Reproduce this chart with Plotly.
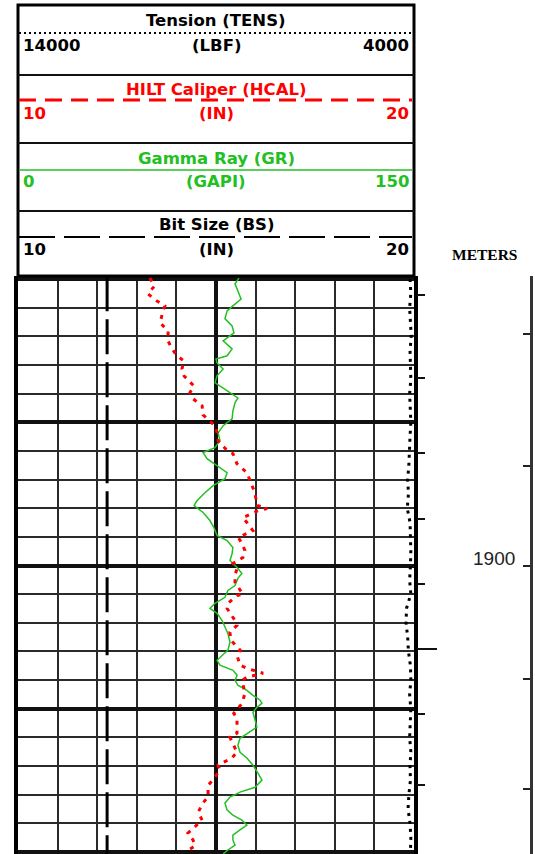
import plotly.graph_objects as go

# ---------------- data ----------------
hcal_depth = [1889.97, 1890.24, 1890.52, 1890.77, 1890.94, 1891.11, 1891.53, 1891.81, 1892.16, 1892.44,
              1892.68, 1892.86, 1893.14, 1893.38, 1893.73, 1893.97, 1894.18, 1894.43, 1894.74, 1895.12,
              1895.37, 1895.64, 1895.99, 1896.10, 1896.45, 1896.76, 1897.21, 1897.46, 1897.90, 1898.01,
              1898.10, 1898.33, 1898.50, 1898.78, 1899.02, 1899.23, 1899.48, 1899.72, 1899.93, 1900.10,
              1900.35, 1900.59, 1901.00, 1901.05, 1901.32, 1901.50, 1901.92, 1902.09, 1902.33, 1902.61,
              1902.96, 1903.14, 1903.48, 1903.59, 1903.76, 1903.90, 1904.01, 1904.46, 1904.81, 1905.16,
              1905.33, 1905.85, 1905.99, 1906.38, 1906.52, 1906.72, 1906.97, 1907.14, 1907.49, 1907.67,
              1908.08, 1908.29, 1908.61, 1908.89, 1909.06, 1909.34, 1909.58, 1909.79, 1910.00]
hcal_in = [13.33, 13.45, 13.28, 13.51, 13.71, 13.66, 13.59, 13.79, 13.79, 13.89,
           14.02, 14.19, 14.14, 14.19, 14.44, 14.34, 14.42, 14.65, 14.67, 14.97,
           15.03, 15.05, 15.28, 15.43, 15.53, 15.78, 15.91, 15.98, 16.04, 16.29,
           16.04, 15.68, 15.78, 15.93, 15.56, 15.66, 15.73, 15.68, 15.43, 15.53,
           15.48, 15.48, 15.68, 15.53, 15.30, 15.28, 15.48, 15.53, 15.35, 15.38,
           15.61, 15.53, 15.61, 15.78, 16.19, 15.78, 15.66, 15.73, 15.66, 15.45,
           15.53, 15.53, 15.35, 15.48, 15.53, 15.40, 15.05, 15.10, 14.92, 14.80,
           14.80, 14.67, 14.55, 14.65, 14.52, 14.29, 14.42, 14.47, 14.22]

gr_depth = [1889.97, 1890.17, 1890.42, 1890.70, 1890.94, 1891.11, 1891.39, 1891.64, 1891.88, 1892.16,
            1892.44, 1892.68, 1892.79, 1892.93, 1893.14, 1893.38, 1893.62, 1893.90, 1894.15, 1894.32,
            1894.60, 1894.88, 1895.12, 1895.37, 1895.64, 1895.89, 1896.06, 1896.27, 1896.52, 1896.76,
            1896.97, 1897.21, 1897.46, 1897.74, 1897.91, 1898.15, 1898.43, 1898.68, 1898.95, 1899.13,
            1899.37, 1899.58, 1899.83, 1900.07, 1900.28, 1900.45, 1900.70, 1900.87, 1901.11, 1901.32,
            1901.50, 1901.67, 1901.92, 1902.16, 1902.37, 1902.68, 1902.96, 1903.14, 1903.31, 1903.48,
            1903.66, 1903.83, 1904.01, 1904.18, 1904.36, 1904.53, 1904.70, 1904.81, 1904.95, 1905.12,
            1905.40, 1905.64, 1905.85, 1906.03, 1906.27, 1906.52, 1906.72, 1906.97, 1907.25, 1907.49,
            1907.74, 1907.91, 1908.08, 1908.29, 1908.54, 1908.71, 1908.89, 1909.06, 1909.23, 1909.41,
            1909.58, 1909.76, 1909.93, 1910.07]
gr_gapi = [83.7, 82.2, 83.3, 84.5, 81.4, 79.2, 78.4, 81.1, 81.8, 77.7,
           81.1, 79.2, 75.0, 75.4, 77.7, 75.4, 74.6, 79.2, 83.3, 82.2,
           81.4, 81.1, 77.7, 75.8, 76.5, 74.6, 70.1, 71.6, 75.4, 79.2,
           78.4, 73.9, 70.8, 67.8, 66.7, 70.1, 72.7, 74.2, 75.4, 79.2,
           81.4, 81.1, 80.3, 83.0, 84.8, 83.3, 82.2, 79.5, 78.4, 74.6,
           72.7, 75.4, 77.3, 78.4, 79.5, 80.3, 79.5, 77.3, 75.4, 76.5,
           81.4, 83.0, 82.2, 83.3, 86.7, 89.0, 91.7, 92.4, 90.5, 89.0,
           89.8, 90.5, 87.1, 84.1, 83.3, 84.1, 86.7, 89.0, 90.9, 92.4,
           89.8, 84.1, 80.3, 78.4, 79.2, 81.4, 84.8, 86.7, 84.1, 81.4,
           81.4, 82.2, 79.5, 77.7]

tens_depth = [1890.0, 1890.5, 1891.0, 1891.5, 1892.0, 1892.5, 1893.0, 1893.5, 1894.0, 1894.5,
              1895.0, 1895.5, 1896.0, 1896.5, 1897.0, 1897.5, 1898.0, 1898.5, 1899.0, 1899.5,
              1900.0, 1900.5, 1901.0, 1901.5, 1902.0, 1902.5, 1903.0, 1903.5, 1904.0, 1904.5,
              1905.0, 1905.5, 1906.0, 1906.5, 1907.0, 1907.5, 1908.0, 1908.5, 1909.0, 1909.5, 1910.0]
tens_lbf = [4100, 4080, 4110, 4090, 4070, 4100, 4090, 4080, 4110, 4090,
            4080, 4100, 4110, 4130, 4160, 4140, 4170, 4100, 4090, 4080,
            4090, 4110, 4080, 4190, 4200, 4160, 4140, 4090, 4080, 4110,
            4080, 4090, 4110, 4080, 4100, 4090, 4130, 4150, 4100, 4080, 4090]

bs_depth = [1889.9, 1910.1]
bs_in = [12.25, 12.25]

time_mark_depth = [1890.56, 1893.45, 1896.06, 1898.36, 1900.63, 1905.19, 1907.67]
time_mark_long_depth = [1902.93]
depth_tick_vals = [1891.92, 1896.52, 1900.0, 1903.97, 1907.80]
depth_label_val = 1900

curve_names = ["Tension (TENS)", "HILT Caliper (HCAL)", "Gamma Ray (GR)", "Bit Size (BS)"]
curve_units = ["(LBF)", "(IN)", "(GAPI)", "(IN)"]
curve_left = ["14000", "10", "0", "10"]
curve_right = ["4000", "20", "150", "20"]

# ---------------- layout constants ----------------
W, H = 535, 854
DEPTH_TOP, DEPTH_BOT = 1889.895, 1910.07
RED = "#ff0000"
GREEN = "#22c022"
BLACK = "#000000"


def px(x):
    return x / W


def py(y):
    return 1 - y / H


TRACK_L, TRACK_R, TRACK_T = 18, 414, 276

fig = go.Figure()

fig.add_trace(go.Scatter(x=bs_in, y=bs_depth, mode="lines", xaxis="x", yaxis="y",
                         line=dict(color=BLACK, width=3, dash="35px,8px"), showlegend=False,
                         hoverinfo="skip"))
fig.add_trace(go.Scatter(x=gr_gapi, y=gr_depth, mode="lines", xaxis="x2", yaxis="y",
                         line=dict(color=GREEN, width=1.5), showlegend=False))
fig.add_trace(go.Scatter(x=hcal_in, y=hcal_depth, mode="lines", xaxis="x3", yaxis="y",
                         line=dict(color=RED, width=3, dash="4px,6px"), showlegend=False))
fig.add_trace(go.Scatter(x=tens_lbf, y=tens_depth, mode="lines", xaxis="x4", yaxis="y",
                         line=dict(color=BLACK, width=3, dash="3px,5px"), showlegend=False))
# carriers for the depth-track axes
for ya in ["y2", "y3", "y4"]:
    fig.add_trace(go.Scatter(x=[None], y=[None], xaxis="x", yaxis=ya, showlegend=False,
                             hoverinfo="skip"))

dom_x = [px(TRACK_L), px(TRACK_R)]
dom_y = [0, py(TRACK_T)]
hidden = dict(visible=False, showgrid=False, zeroline=False)

fig.update_layout(
    width=W, height=H, margin=dict(l=0, r=0, t=0, b=0),
    paper_bgcolor="white", plot_bgcolor="white", showlegend=False,
    xaxis=dict(domain=dom_x, range=[10, 20], anchor="y", showticklabels=False, ticks="",
               showgrid=True, tick0=10, dtick=5, gridwidth=4, gridcolor="#111",
               minor=dict(dtick=1, showgrid=True, gridwidth=2, gridcolor="#2a2a2a"),
               zeroline=False, showline=False, fixedrange=True),
    xaxis2=dict(overlaying="x", range=[0, 150], anchor="y", **hidden),
    xaxis3=dict(overlaying="x", range=[10, 20], anchor="y", **hidden),
    xaxis4=dict(overlaying="x", range=[14000, 4000], anchor="y", **hidden),
    yaxis=dict(domain=dom_y, range=[DEPTH_BOT, DEPTH_TOP], anchor="x", showticklabels=False,
               ticks="", showgrid=True, tick0=1890, dtick=5, gridwidth=4, gridcolor="#111",
               minor=dict(dtick=1, showgrid=True, gridwidth=2, gridcolor="#2a2a2a"),
               zeroline=False, showline=True, linewidth=4, linecolor=BLACK, mirror=True),
    yaxis2=dict(overlaying="y", anchor="free", position=px(416), side="right",
                range=[DEPTH_BOT, DEPTH_TOP], tickmode="array", tickvals=time_mark_depth,
                ticks="outside", ticklen=8, tickwidth=2, tickcolor="#111",
                showticklabels=False, showgrid=False, zeroline=False, showline=False),
    yaxis3=dict(overlaying="y", anchor="free", position=px(416), side="right",
                range=[DEPTH_BOT, DEPTH_TOP], tickmode="array", tickvals=time_mark_long_depth,
                ticks="outside", ticklen=20, tickwidth=2, tickcolor="#111",
                showticklabels=False, showgrid=False, zeroline=False, showline=False),
    yaxis4=dict(overlaying="y", anchor="free", position=px(531), side="right",
                range=[DEPTH_BOT, DEPTH_TOP], tickmode="array", tickvals=depth_tick_vals,
                ticks="inside", ticklen=7, tickwidth=2, tickcolor="#222",
                showticklabels=False, showgrid=False, zeroline=False,
                showline=True, linewidth=3, linecolor="#333"),
)

# ---------------- header ----------------
shapes = []
shapes.append(dict(type="rect", xref="paper", yref="paper", x0=px(TRACK_L), x1=px(TRACK_R),
                   y0=py(TRACK_T), y1=py(5), line=dict(color=BLACK, width=3)))
for ysep in [75, 143, 211]:
    shapes.append(dict(type="line", xref="paper", yref="paper", x0=px(TRACK_L), x1=px(TRACK_R),
                       y0=py(ysep), y1=py(ysep), line=dict(color="#111", width=2)))

legend_rows = [
    dict(title_y=20, line_y=33, scale_y=46, color=BLACK, line=dict(color=BLACK, width=2, dash="2px,3px")),
    dict(title_y=89, line_y=100, scale_y=113, color=RED, line=dict(color=RED, width=3, dash="17px,9px")),
    dict(title_y=158, line_y=170, scale_y=181, color=GREEN, line=dict(color=GREEN, width=1.5)),
    dict(title_y=225, line_y=237, scale_y=249, color=BLACK, line=dict(color=BLACK, width=2, dash="36px,9px")),
]
annotations = []
hfont = "DejaVu Sans"
for i, row in enumerate(legend_rows):
    shapes.append(dict(type="line", xref="paper", yref="paper", x0=px(TRACK_L + 1), x1=px(TRACK_R - 2),
                       y0=py(row["line_y"]), y1=py(row["line_y"]), line=row["line"]))
    f = dict(family=hfont, size=16.5, color=row["color"])
    annotations.append(dict(xref="paper", yref="paper", x=px(216), y=py(row["title_y"]),
                            text="<b>%s</b>" % curve_names[i], showarrow=False,
                            xanchor="center", yanchor="middle", font=f))
    annotations.append(dict(xref="paper", yref="paper", x=px(21), y=py(row["scale_y"]),
                            text="<b>%s</b>" % curve_left[i], showarrow=False,
                            xanchor="left", yanchor="middle", font=f))
    annotations.append(dict(xref="paper", yref="paper", x=px(216), y=py(row["scale_y"]),
                            text="<b>%s</b>" % curve_units[i], showarrow=False,
                            xanchor="center", yanchor="middle", font=f))
    annotations.append(dict(xref="paper", yref="paper", x=px(411), y=py(row["scale_y"]),
                            text="<b>%s</b>" % curve_right[i], showarrow=False,
                            xanchor="right", yanchor="middle", font=f))

annotations.append(dict(xref="paper", yref="paper", x=px(484), y=py(254), text="<b>METERS</b>",
                        showarrow=False, xanchor="center", yanchor="middle",
                        font=dict(family="Liberation Serif", size=15.5, color=BLACK)))
annotations.append(dict(xref="paper", yref="y", x=px(517), y=depth_label_val, text=str(depth_label_val),
                        showarrow=False, xanchor="right", yanchor="middle", yshift=7,
                        font=dict(family="Liberation Sans", size=19, color="#222")))

fig.update_layout(shapes=shapes, annotations=annotations)

fig.write_html("out.html", config={"displayModeBar": False},
               post_script="document.body.style.margin='0';document.body.style.overflow='hidden';")
